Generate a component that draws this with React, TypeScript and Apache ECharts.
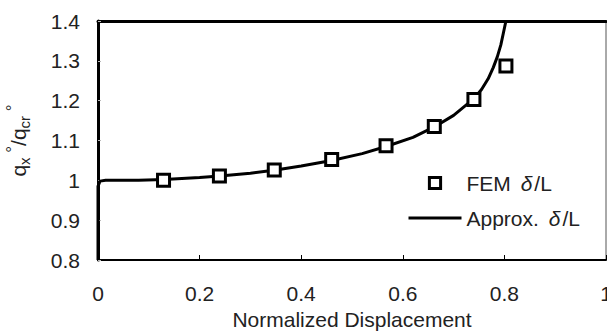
import React, { useEffect, useRef } from "react";
import * as echarts from "echarts";

const femX = [0.129, 0.239, 0.347, 0.46, 0.567, 0.662, 0.74, 0.803];
const femY = [1.0, 1.011, 1.026, 1.052, 1.087, 1.135, 1.203, 1.287];

const approxX = [0, 0, 0.004, 0.015, 0.08, 0.13, 0.2, 0.24, 0.3, 0.35, 0.4, 0.46, 0.52, 0.567, 0.62, 0.662, 0.7, 0.74, 0.755, 0.768, 0.778, 0.786, 0.793, 0.798, 0.803];
const approxY = [0.8, 0.985, 0.998, 1.0, 1.0, 1.002, 1.007, 1.011, 1.018, 1.026, 1.036, 1.05, 1.067, 1.085, 1.108, 1.134, 1.163, 1.205, 1.228, 1.255, 1.283, 1.31, 1.34, 1.37, 1.4];

const xTicks = [0, 0.2, 0.4, 0.6, 0.8, 1];
const yTicks = [0.8, 0.9, 1, 1.1, 1.2, 1.3, 1.4];

const FONT = "'Liberation Sans', Arial, sans-serif";
const FS = 21;
const TXT = "#222";

export default function App() {
  const ref = useRef<HTMLDivElement>(null);
  useEffect(() => {
    if (!ref.current) return;
    const chart = echarts.init(ref.current, null, { renderer: "svg" });
    chart.setOption({
      animation: false,
      textStyle: { fontFamily: FONT },
      grid: {
        left: 98,
        right: 1,
        top: 21,
        bottom: 75,
        show: true,
        borderColor: "#555",
        borderWidth: 1,
        outerBoundsMode: "none",
        containLabel: false,
      },
      legend: {
        orient: "vertical",
        left: 407,
        top: 172,
        padding: 0,
        itemWidth: 53,
        itemHeight: 14,
        itemGap: 13,
        data: [
          { name: "FEM δ/L", itemStyle: { color: "#fff", borderColor: "#000", borderWidth: 3 } },
          { name: "Approx. δ/L", itemStyle: { opacity: 0 }, lineStyle: { color: "#000", width: 3 } },
        ],
        formatter: (n: string) => n.replace("δ", "{i|δ}"),
        textStyle: {
          fontSize: FS,
          color: TXT,
          fontFamily: FONT,
          lineHeight: 22,
          rich: { i: { fontStyle: "italic", fontSize: FS, color: TXT, fontFamily: FONT, padding: [0, 2, 0, 4] } },
        },
      },
      xAxis: [
        {
          type: "value",
          min: 0,
          max: 1,
          interval: 0.2,
          name: "Normalized Displacement",
          nameLocation: "middle",
          nameGap: 47,
          nameTextStyle: { fontSize: FS, color: TXT, fontFamily: FONT },
          axisLine: { lineStyle: { color: "#000", width: 2 } },
          axisTick: { inside: true, length: 5, lineStyle: { color: "#000", width: 1 } },
          axisLabel: {
            margin: 23,
            fontSize: FS,
            color: TXT,
            fontFamily: FONT,
            formatter: (v: number) => {
              const t = xTicks.find((k) => Math.abs(k - v) < 1e-9);
              return t === undefined ? "" : String(t);
            },
          },
          splitLine: { show: false },
        },
        {
          type: "value",
          position: "top",
          min: 0,
          max: 1,
          axisLine: { show: true, lineStyle: { color: "#000", width: 3 } },
          axisTick: { show: false },
          axisLabel: { show: false },
          splitLine: { show: false },
        },
      ],
      yAxis: {
        type: "value",
        min: 0.8,
        max: 1.4,
        interval: 0.1,
        name: "{q|q}{s|x}{d| °}{q|/q}{s|cr}{d| °}",
        nameLocation: "middle",
        nameGap: 66,
        nameRotate: 90,
        nameTextStyle: {
          fontSize: FS,
          color: TXT,
          fontFamily: FONT,
          rich: {
            q: { fontSize: FS, color: TXT, fontFamily: FONT, lineHeight: 28 },
            s: { fontSize: 15, color: TXT, fontFamily: FONT, verticalAlign: "bottom", lineHeight: 28 },
            d: { fontSize: 17, color: TXT, fontFamily: FONT, verticalAlign: "top", lineHeight: 28 },
          },
        },
        axisLine: { lineStyle: { color: "#000", width: 3 } },
        axisTick: { inside: true, length: 3, lineStyle: { color: "#bbb", width: 1 } },
        axisLabel: {
          margin: 18,
          fontSize: FS,
          color: TXT,
          fontFamily: FONT,
          formatter: (v: number) => {
            const t = yTicks.find((k) => Math.abs(k - v) < 1e-9);
            return t === undefined ? "" : String(t);
          },
        },
        splitLine: { show: false },
      },
      series: [
        {
          name: "Approx. δ/L",
          type: "line",
          data: approxX.map((x, i) => [x, approxY[i]]),
          symbol: "none",
          smooth: false,
          lineStyle: { color: "#000", width: 3 },
          itemStyle: { color: "#000" },
          z: 2,
        },
        {
          name: "FEM δ/L",
          type: "line",
          data: femX.map((x, i) => [x, femY[i]]),
          symbol: "rect",
          symbolSize: 12,
          lineStyle: { width: 0, opacity: 0 },
          itemStyle: { color: "#fff", borderColor: "#000", borderWidth: 3 },
          z: 3,
        },
      ],
    });
    return () => chart.dispose();
  }, []);
  return <div ref={ref} style={{ width: 607, height: 335, position: "absolute", left: 0, top: 0 }} />;
}
